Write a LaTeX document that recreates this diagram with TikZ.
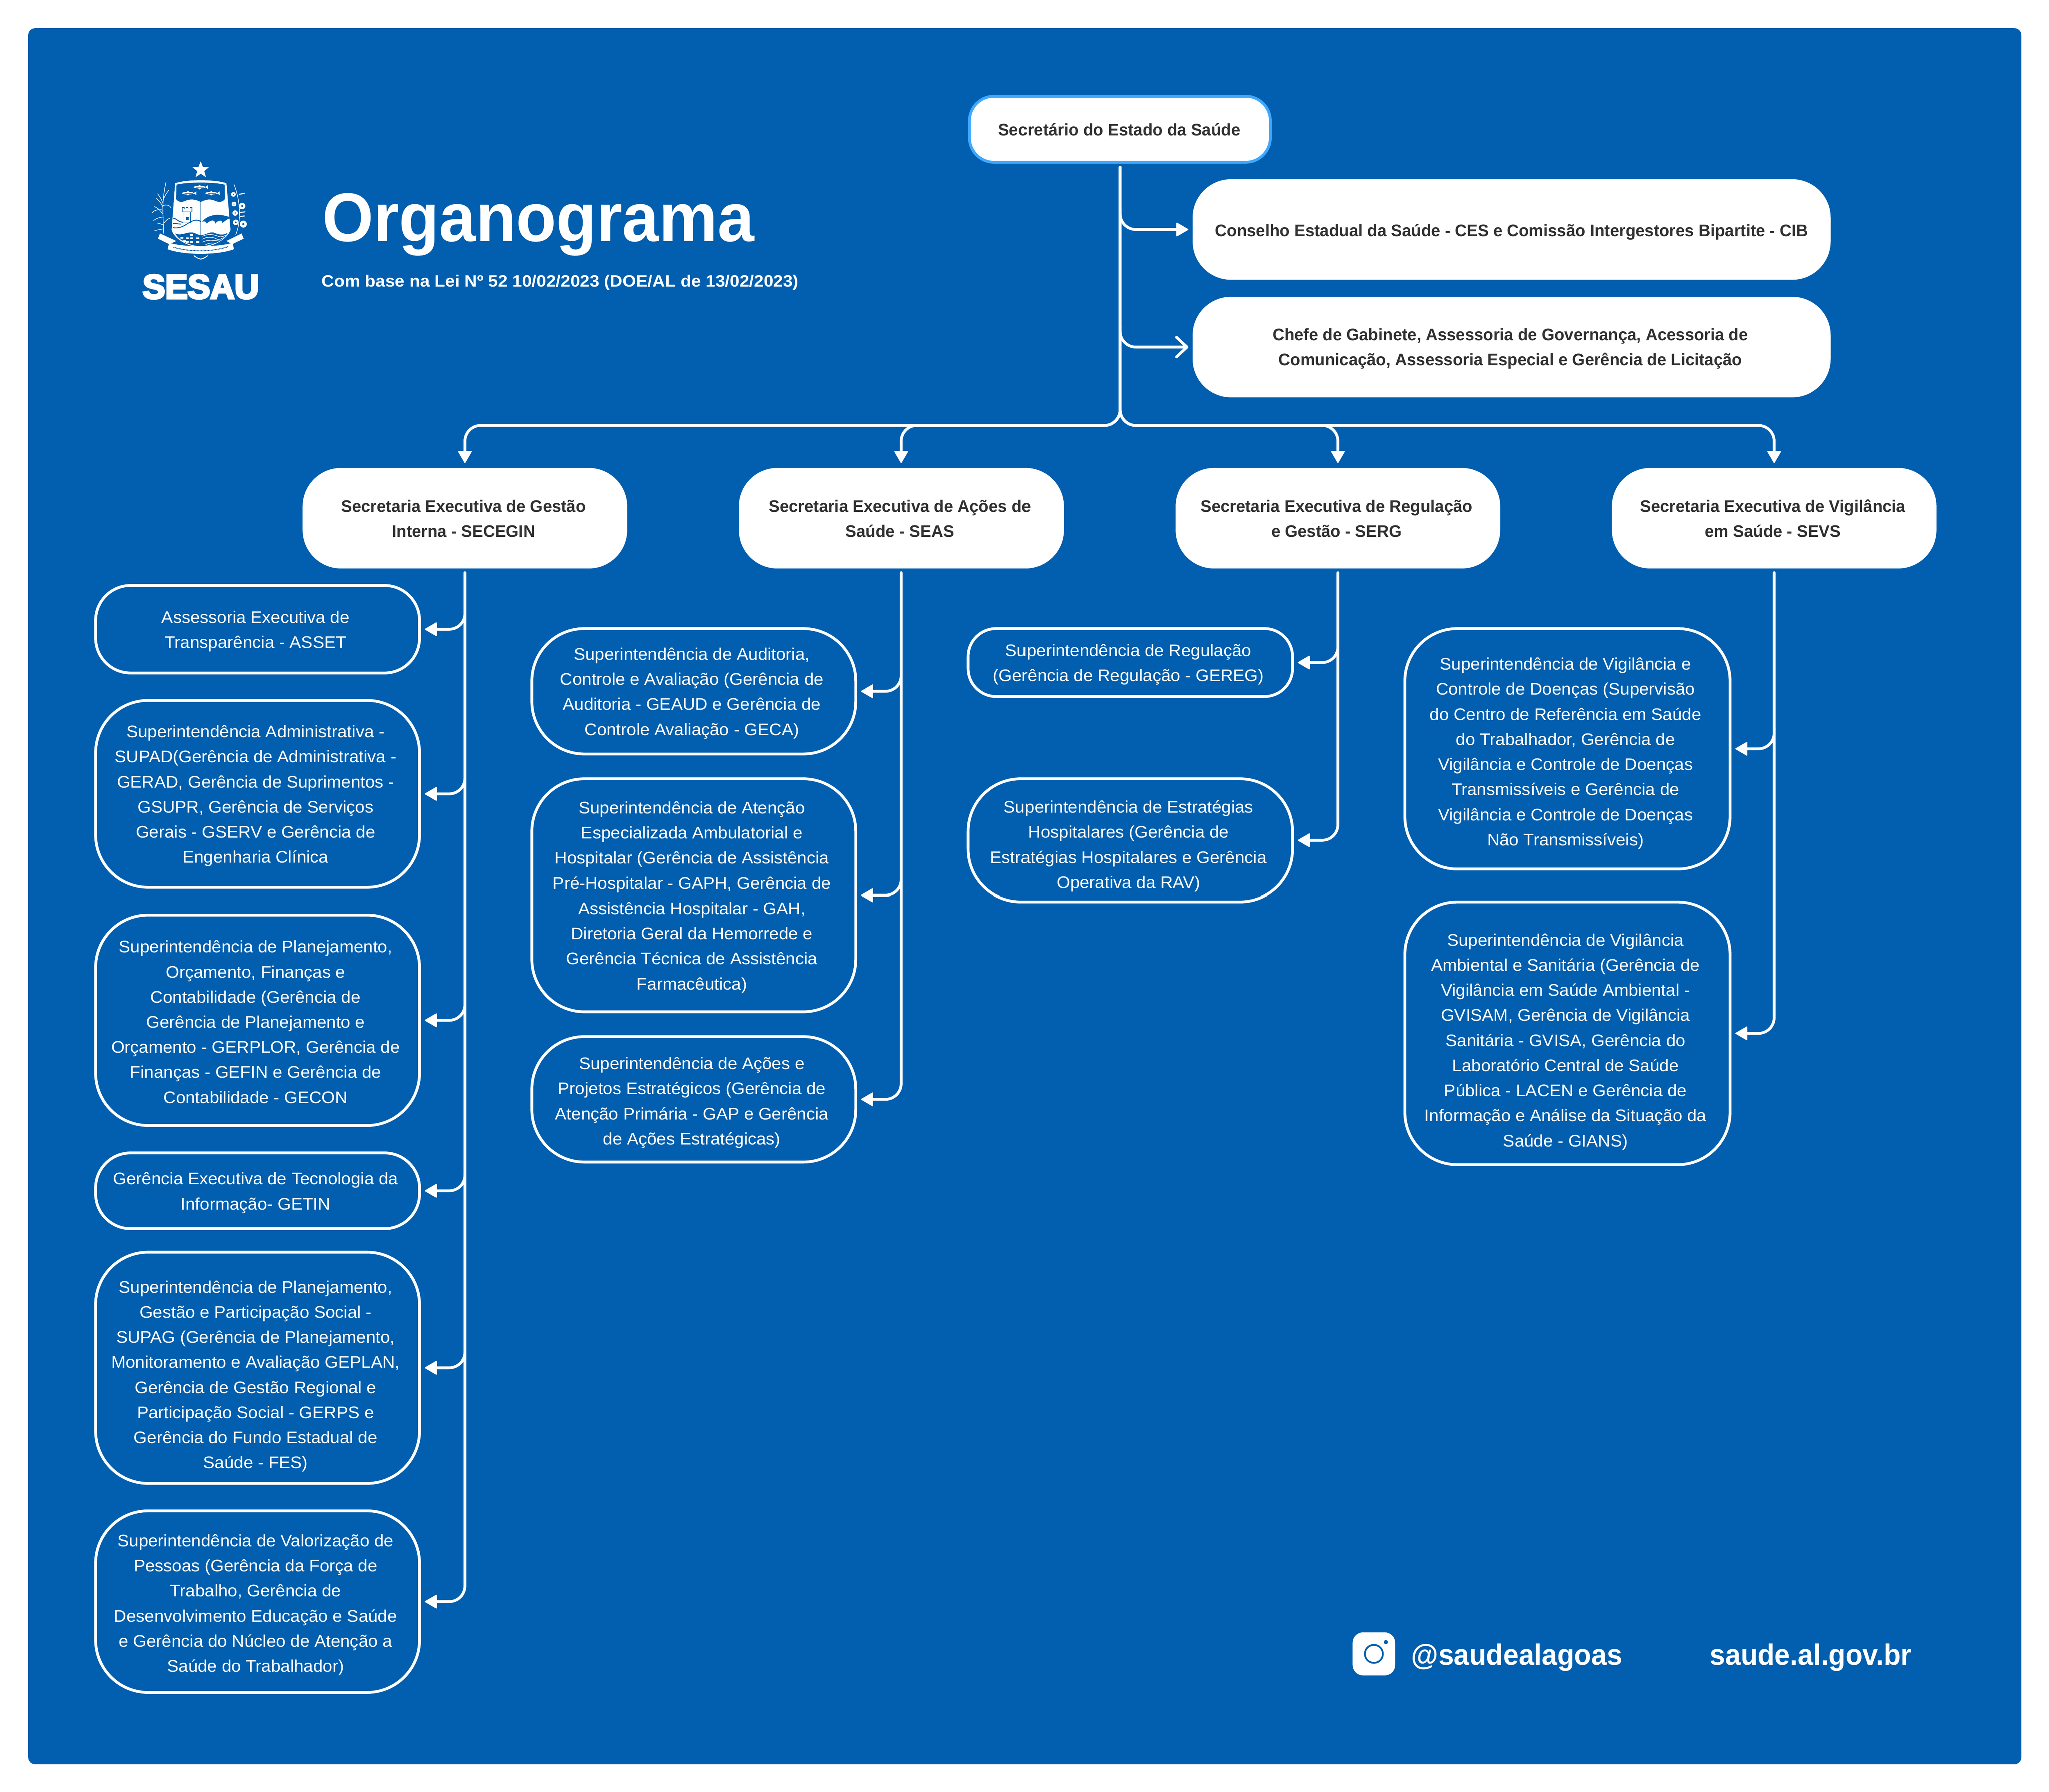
\documentclass[tikz,border=0pt]{standalone}
\usepackage{fontspec}
\usetikzlibrary{arrows.meta,calc}
\newfontfamily\rgf[FakeStretch=1.028]{Liberation Sans}
\newfontfamily\bdf[FakeStretch=0.978]{Liberation Sans}
\newfontfamily\ttlf[FakeStretch=0.956]{Liberation Sans}
\newfontfamily\subf[FakeStretch=1.058]{Liberation Sans}
\newfontfamily\ftrf[FakeStretch=0.946]{Liberation Sans}
\newfontfamily\hvf[FakeBold=6,FakeStretch=0.995]{Liberation Sans}
\definecolor{sesblue}{HTML}{025EAE}
\definecolor{skyline}{HTML}{3EA8FF}
\definecolor{inkdark}{HTML}{303030}
\newcommand\unitp{3.7347}
\newsavebox\tbox
\def\bdx{1.5}
% [text drop] style, name, x1,y1,x2,y2 (outer bounds in layout px), text
\newcommand\bbox[8][0]{%
  \pgfmathsetmacro\bw{(#6-#4)*\unitp}\pgfmathsetmacro\bh{(#7-#5)*\unitp}%
  \pgfmathsetmacro\tdy{#1*\unitp}\pgfmathsetmacro\tdx{2*\bdx*\unitp}%
  \node[#2,minimum width=\bw pt,minimum height=\bh pt] (#3) at ({(#4+#6)/2},{(#5+#7)/2}) {%
    \sbox\tbox{\begin{tabular}{@{}c@{}}#8\end{tabular}}%
    \raisebox{\dimexpr(\dp\tbox-\ht\tbox)/2-\tdy pt\relax}[0pt][0pt]{\usebox\tbox}\kern\tdx pt};}
\tikzset{
  basebox/.style={rectangle,inner sep=0pt,outer sep=0pt},
  lightbox/.style={basebox,draw=white,line width=8pt,text=white,rounded corners=#1,
    font=\rgf\fontsize{48}{71.7}\selectfont},
  lightbox/.default=150pt,
  whitebox/.style={basebox,fill=white,text=inkdark,rounded corners=110pt,
    font=\bdf\bfseries\fontsize{48}{71.7}\selectfont},
  rootbox/.style={basebox,fill=white,draw=skyline,line width=8pt,text=inkdark,rounded corners=70pt,
    font=\bdf\bfseries\fontsize{48}{71.7}\selectfont},
  wire/.style={draw=white,line width=8pt,line cap=round,rounded corners=45pt},
  solidhead/.style={-{Triangle[length=36pt,width=41pt,line width=3pt,round]}},
  openhead/.style={-{Straight Barb[length=30pt,width=56pt,line width=8pt,round]}},
  flat/.style={text=white,inner sep=0pt,outer sep=0pt,anchor=base west},
  logopart/.style={white,line width=1.6pt,line cap=round},
}
\newcommand\branch[2]{\draw[wire,solidhead,shorten >=15pt] ($(#1.south |- #2.east)+(0,60pt)$) -- (#1.south |- #2.east) -- (#2.east);}
\newcommand\trunk[2]{\draw[wire,solidhead,shorten >=15pt] ($(#1.south)+(0,-12pt)$) -- (#1.south |- #2.east) -- (#2.east);}
\newcommand\drop[1]{\draw[wire,solidhead,shorten >=14pt] ($(root.south)+(0,-14pt)$) -- (root.south |- bus) -- (#1.north |- bus) -- (#1.north);}
\newcommand\fish[2]{%
  \fill[white] (#1,#2) ellipse (52 and 11);
  \fill[white] (#1+48,#2) -- (#1+72,#2-16) -- (#1+72,#2+16) -- cycle;
  \fill[white] (#1-12,#2-10) -- (#1,#2-20) -- (#1+12,#2-10) -- cycle;
  \fill[white] (#1-12,#2+10) -- (#1,#2+20) -- (#1+12,#2+10) -- cycle;
  \draw[sesblue,line width=.6pt] (#1-30,#2) -- (#1+40,#2);}
\newcommand\flower[3]{%
  \fill[white] (#1,#2) circle (#3);
  \fill[sesblue] (#1,#2) circle (#3*.3);}
\begin{document}
\begin{tikzpicture}[x=3.7347pt,y=-3.7347pt]
\useasboundingbox (0,0) rectangle (1568,1370.95);
\fill[white] (0,0) rectangle (1568,1370.95);
\fill[sesblue,rounded corners=20pt] (21.4,21.4) rectangle (1547,1350);

% ---- logo
\begin{scope}[shift={(390pt,-440pt)},x=0.33333pt,y=-0.33333pt]
  \fill[white] (550,62) -- (568,110) -- (620,112) -- (580,145) -- (595,198) -- (550,168) -- (505,198) -- (520,145) -- (478,112) -- (530,110) -- cycle;
  % cane
  \draw[logopart] (232,680) .. controls (225,500) and (215,400) .. (252,240);
  \draw[logopart] (225,420) .. controls (210,380) and (195,360) .. (180,340);
  \draw[logopart] (228,390) .. controls (245,350) and (260,330) .. (275,310);
  \draw[logopart] (222,480) .. controls (190,470) and (150,480) .. (130,505);
  \draw[logopart] (222,510) .. controls (200,480) and (180,460) .. (150,450);
  \draw[logopart] (230,440) .. controls (260,430) and (285,440) .. (295,460);
  \draw[logopart] (230,540) .. controls (200,540) and (170,550) .. (145,570);
  \draw[logopart] (232,640) .. controls (210,645) and (180,650) .. (155,655);
  \draw[logopart] (232,610) .. controls (215,600) and (195,595) .. (175,590);
  \draw[logopart] (236,590) .. controls (250,570) and (265,555) .. (285,550);
  \draw[logopart] (225,455) .. controls (215,420) and (180,390) .. (170,380);
  % branch
  \draw[logopart] (850,690) .. controls (900,570) and (890,400) .. (835,260);
  \flower{830}{345}{20}\flower{905}{445}{28}\flower{835}{428}{20}\flower{845}{505}{23}\flower{915}{600}{30}\flower{850}{585}{24}
  \draw[logopart,line width=3pt] (880,345) -- (925,335);
  \draw[logopart,line width=3pt] (890,500) -- (930,495);
  \draw[logopart,line width=3pt] (890,535) -- (925,530);
  % ribbon ends
  \fill[white] (200,680) -- (183,725) -- (280,772) -- (340,745) -- cycle;
  \fill[white] (900,680) -- (918,725) -- (820,772) -- (770,745) -- cycle;
  % shield
  \fill[white] (330,250) .. controls (420,215) and (680,215) .. (770,250) -- (805,650) .. controls (780,720) and (680,790) .. (550,800) .. controls (420,790) and (320,720) .. (300,650) -- cycle;
  \fill[sesblue] (342,262) .. controls (430,238) and (670,238) .. (755,262) -- (757,385) .. controls (735,415) and (700,415) .. (660,395) .. controls (620,380) and (580,395) .. (550,410) .. controls (520,395) and (480,380) .. (430,395) .. controls (390,415) and (360,415) .. (338,385) -- cycle;
  \fish{540}{283}\fish{440}{335}\fish{640}{335}
  \draw[sesblue,line width=2pt] (550,405) -- (550,795);
  % tower
  \draw[sesblue,line width=1.6pt] (392,458) -- (392,495) -- (474,495) -- (474,458) -- (458,458) -- (458,470) -- (440,470) -- (440,458) -- (424,458) -- (424,470) -- (408,470) -- (408,458) -- cycle;
  \draw[sesblue,line width=1.6pt] (405,495) -- (405,590) -- (460,590) -- (460,495);
  \fill[sesblue] (420,540) rectangle (445,565);
  % hills
  \fill[sesblue] (560,578) .. controls (590,550) and (610,535) .. (640,530) .. controls (670,515) and (720,515) .. (800,540) -- (800,550) .. controls (770,560) and (750,580) .. (735,590) .. controls (740,565) and (700,560) .. (675,595) .. controls (670,560) and (640,560) .. (600,595) .. controls (600,575) and (580,575) .. cycle;
  \draw[sesblue,line width=2.5pt] (310,630) .. controls (360,640) and (400,620) .. (430,600) .. controls (470,575) and (510,550) .. (550,578);
  \draw[sesblue,line width=2.5pt] (312,550) .. controls (335,545) and (350,580) .. (400,585);
  \draw[sesblue,line width=2.5pt] (312,595) .. controls (335,590) and (350,600) .. (380,600);
  % water
  \fill[sesblue] (330,680) .. controls (380,705) and (430,665) .. (480,672) .. controls (510,680) and (530,695) .. (550,695) .. controls (590,695) and (620,665) .. (660,672) .. controls (700,690) and (740,700) .. (780,675) .. controls (745,745) and (650,785) .. (550,790) .. controls (450,785) and (370,745) .. cycle;
  \draw[white,line width=1.6pt] (565,705) .. controls (610,680) and (670,690) .. (700,705) .. controls (725,715) and (745,705) .. (765,695);
  \draw[white,line width=1.6pt] (565,730) .. controls (610,700) and (670,715) .. (690,730) .. controls (710,735) and (730,725) .. (745,715);
  \draw[white,line width=1.6pt] (565,755) .. controls (610,730) and (660,740) .. (710,745);
  \draw[white,line width=1.6pt] (590,778) .. controls (620,760) and (650,760) .. (680,765);
  \foreach \px/\py in {460/685,460/715,460/745,420/715,420/745,510/715,510/745,375/712,395/738}{
    \fill[white] (\px,\py) rectangle ++(26,14);}
  \draw[sesblue,line width=1.6pt] (550,405) -- (550,795);
  % ribbon
  \fill[white] (280,760) .. controls (400,800) and (700,800) .. (822,760) -- (835,815) .. controls (700,868) and (400,868) .. (265,815) -- cycle;
  \draw[sesblue,line width=2.5pt,dash pattern=on 3pt off 1pt] (315,798) .. controls (450,840) and (650,840) .. (785,793);
  \draw[white,line width=2.5pt] (490,870) .. controls (510,885) and (530,898) .. (550,900) .. controls (570,898) and (590,885) .. (610,870);
\end{scope}
\node[flat,font=\hvf\bfseries\fontsize{97}{97}\selectfont] (sesau) at (109,228.3) {SESAU};

% ---- titles
\node[flat,font=\ttlf\bfseries\fontsize{197}{197}\selectfont] (title) at (246.5,184.5) {Organograma};
\node[flat,font=\subf\bfseries\fontsize{47}{47}\selectfont] (sub) at (246,219.3) {Com base na Lei Nº 52 10/02/2023 (DOE/AL de 13/02/2023)};

% ---- top
\def\bdx{0.5}
\bbox[1]{rootbox}{root}{742}{73.5}{972}{124}{Secretário do Estado da Saúde}
\def\bdx{0}
\bbox[1.5]{whitebox}{ces}{912.5}{137}{1401}{214}{Conselho Estadual da Saúde - CES e Comissão Intergestores Bipartite - CIB}
\def\bdx{1}
\bbox[0.7]{whitebox}{chefe}{912.5}{227}{1401}{304}{Chefe de Gabinete, Assessoria de Governança, Acessoria de\\Comunicação, Assessoria Especial e Gerência de Licitação}
\bbox[1]{whitebox}{secA}{231.5}{358}{480}{435}{Secretaria Executiva de Gestão\\Interna - SECEGIN}
\bbox[1]{whitebox}{secB}{565.5}{358}{814}{435}{Secretaria Executiva de Ações de\\Saúde - SEAS}
\bbox[1]{whitebox}{secC}{899.5}{358}{1148}{435}{Secretaria Executiva de Regulação\\e Gestão - SERG}
\bbox[1]{whitebox}{secD}{1233.5}{358}{1482}{435}{Secretaria Executiva de Vigilância\\em Saúde - SEVS}

% ---- column A
\def\bdx{1.5}
\bbox[1]{lightbox=100pt}{a1}{73}{448}{321}{515}{Assessoria Executiva de\\Transparência - ASSET}
\bbox[1]{lightbox}{a2}{73}{536}{321}{679}{Superintendência Administrativa -\\SUPAD(Gerência de Administrativa -\\GERAD, Gerência de Suprimentos -\\GSUPR, Gerência de Serviços\\Gerais - GSERV e Gerência de\\Engenharia Clínica}
\bbox[2]{lightbox}{a3}{73}{700}{321}{861}{Superintendência de Planejamento,\\Orçamento, Finanças e\\Contabilidade (Gerência de\\Gerência de Planejamento e\\Orçamento - GERPLOR, Gerência de\\Finanças - GEFIN e Gerência de\\Contabilidade - GECON}
\bbox[1]{lightbox=100pt}{a4}{73}{882}{321}{940}{Gerência Executiva de Tecnologia da\\Informação- GETIN}
\bbox[6]{lightbox}{a5}{73}{958}{321}{1135}{Superintendência de Planejamento,\\Gestão e Participação Social -\\SUPAG (Gerência de Planejamento,\\Monitoramento e Avaliação GEPLAN,\\Gerência de Gestão Regional e\\Participação Social - GERPS e\\Gerência do Fundo Estadual de\\Saúde - FES)}
\bbox[2]{lightbox}{a6}{73}{1156}{321}{1295}{Superintendência de Valorização de\\Pessoas (Gerência da Força de\\Trabalho, Gerência de\\Desenvolvimento Educação e Saúde\\e Gerência do Núcleo de Atenção a\\Saúde do Trabalhador)}

% ---- column B
\bbox[1]{lightbox}{b1}{407}{481}{655}{577}{Superintendência de Auditoria,\\Controle e Avaliação (Gerência de\\Auditoria - GEAUD e Gerência de\\Controle Avaliação - GECA)}
\bbox[1]{lightbox}{b2}{407}{596}{655}{774}{Superintendência de Atenção\\Especializada Ambulatorial e\\Hospitalar (Gerência de Assistência\\Pré-Hospitalar - GAPH, Gerência de\\Assistência Hospitalar - GAH,\\Diretoria Geral da Hemorrede e\\Gerência Técnica de Assistência\\Farmacêutica)}
\bbox[2]{lightbox}{b3}{407}{793}{655}{889}{Superintendência de Ações e\\Projetos Estratégicos (Gerência de\\Atenção Primária - GAP e Gerência\\de Ações Estratégicas)}

% ---- column C
\bbox[1]{lightbox=80pt}{c1}{741}{481}{989}{533}{Superintendência de Regulação\\(Gerência de Regulação - GEREG)}
\bbox[4]{lightbox}{c2}{741}{596}{989}{690}{Superintendência de Estratégias\\Hospitalares (Gerência de\\Estratégias Hospitalares e Gerência\\Operativa da RAV)}

% ---- column D
\bbox[3]{lightbox}{d1}{1075}{481}{1324}{665}{Superintendência de Vigilância e\\Controle de Doenças (Supervisão\\do Centro de Referência em Saúde\\do Trabalhador, Gerência de\\Vigilância e Controle de Doenças\\Transmissíveis e Gerência de\\Vigilância e Controle de Doenças\\Não Transmissíveis)}
\bbox[6]{lightbox}{d2}{1075}{690}{1324}{891}{Superintendência de Vigilância\\Ambiental e Sanitária (Gerência de\\Vigilância em Saúde Ambiental -\\GVISAM, Gerência de Vigilância\\Sanitária - GVISA, Gerência do\\Laboratório Central de Saúde\\Pública - LACEN e Gerência de\\Informação e Análise da Situação da\\Saúde - GIANS)}

% ---- connectors
\coordinate (bus) at (856.5,325.5);
\draw[wire,solidhead,shorten >=12pt] ($(root.south |- ces.west)+(0,60pt)$) -- (root.south |- ces.west) -- (ces.west);
\draw[wire,openhead,shorten >=12pt] ($(root.south |- chefe.west)+(0,60pt)$) -- (root.south |- chefe.west) -- (chefe.west);
\drop{secA}\drop{secB}\drop{secC}\drop{secD}
\branch{secA}{a1}\branch{secA}{a2}\branch{secA}{a3}\branch{secA}{a4}\branch{secA}{a5}\trunk{secA}{a6}
\branch{secB}{b1}\branch{secB}{b2}\trunk{secB}{b3}
\branch{secC}{c1}\trunk{secC}{c2}
\branch{secD}{d1}\trunk{secD}{d2}

% ---- footer
\fill[white,rounded corners=30pt] (1035,1249) rectangle (1067.6,1282);
\draw[sesblue,line width=5pt] (1051.3,1265.5) circle (6.9);
\fill[sesblue] (1060.5,1256.5) circle (1.6);
\node[flat,font=\ftrf\bfseries\fontsize{84}{84}\selectfont] (handle) at (1080,1274) {@saudealagoas};
\node[flat,font=\ftrf\bfseries\fontsize{84}{84}\selectfont] (site) at (1308.5,1274) {saude.al.gov.br};
\end{tikzpicture}
\end{document}
